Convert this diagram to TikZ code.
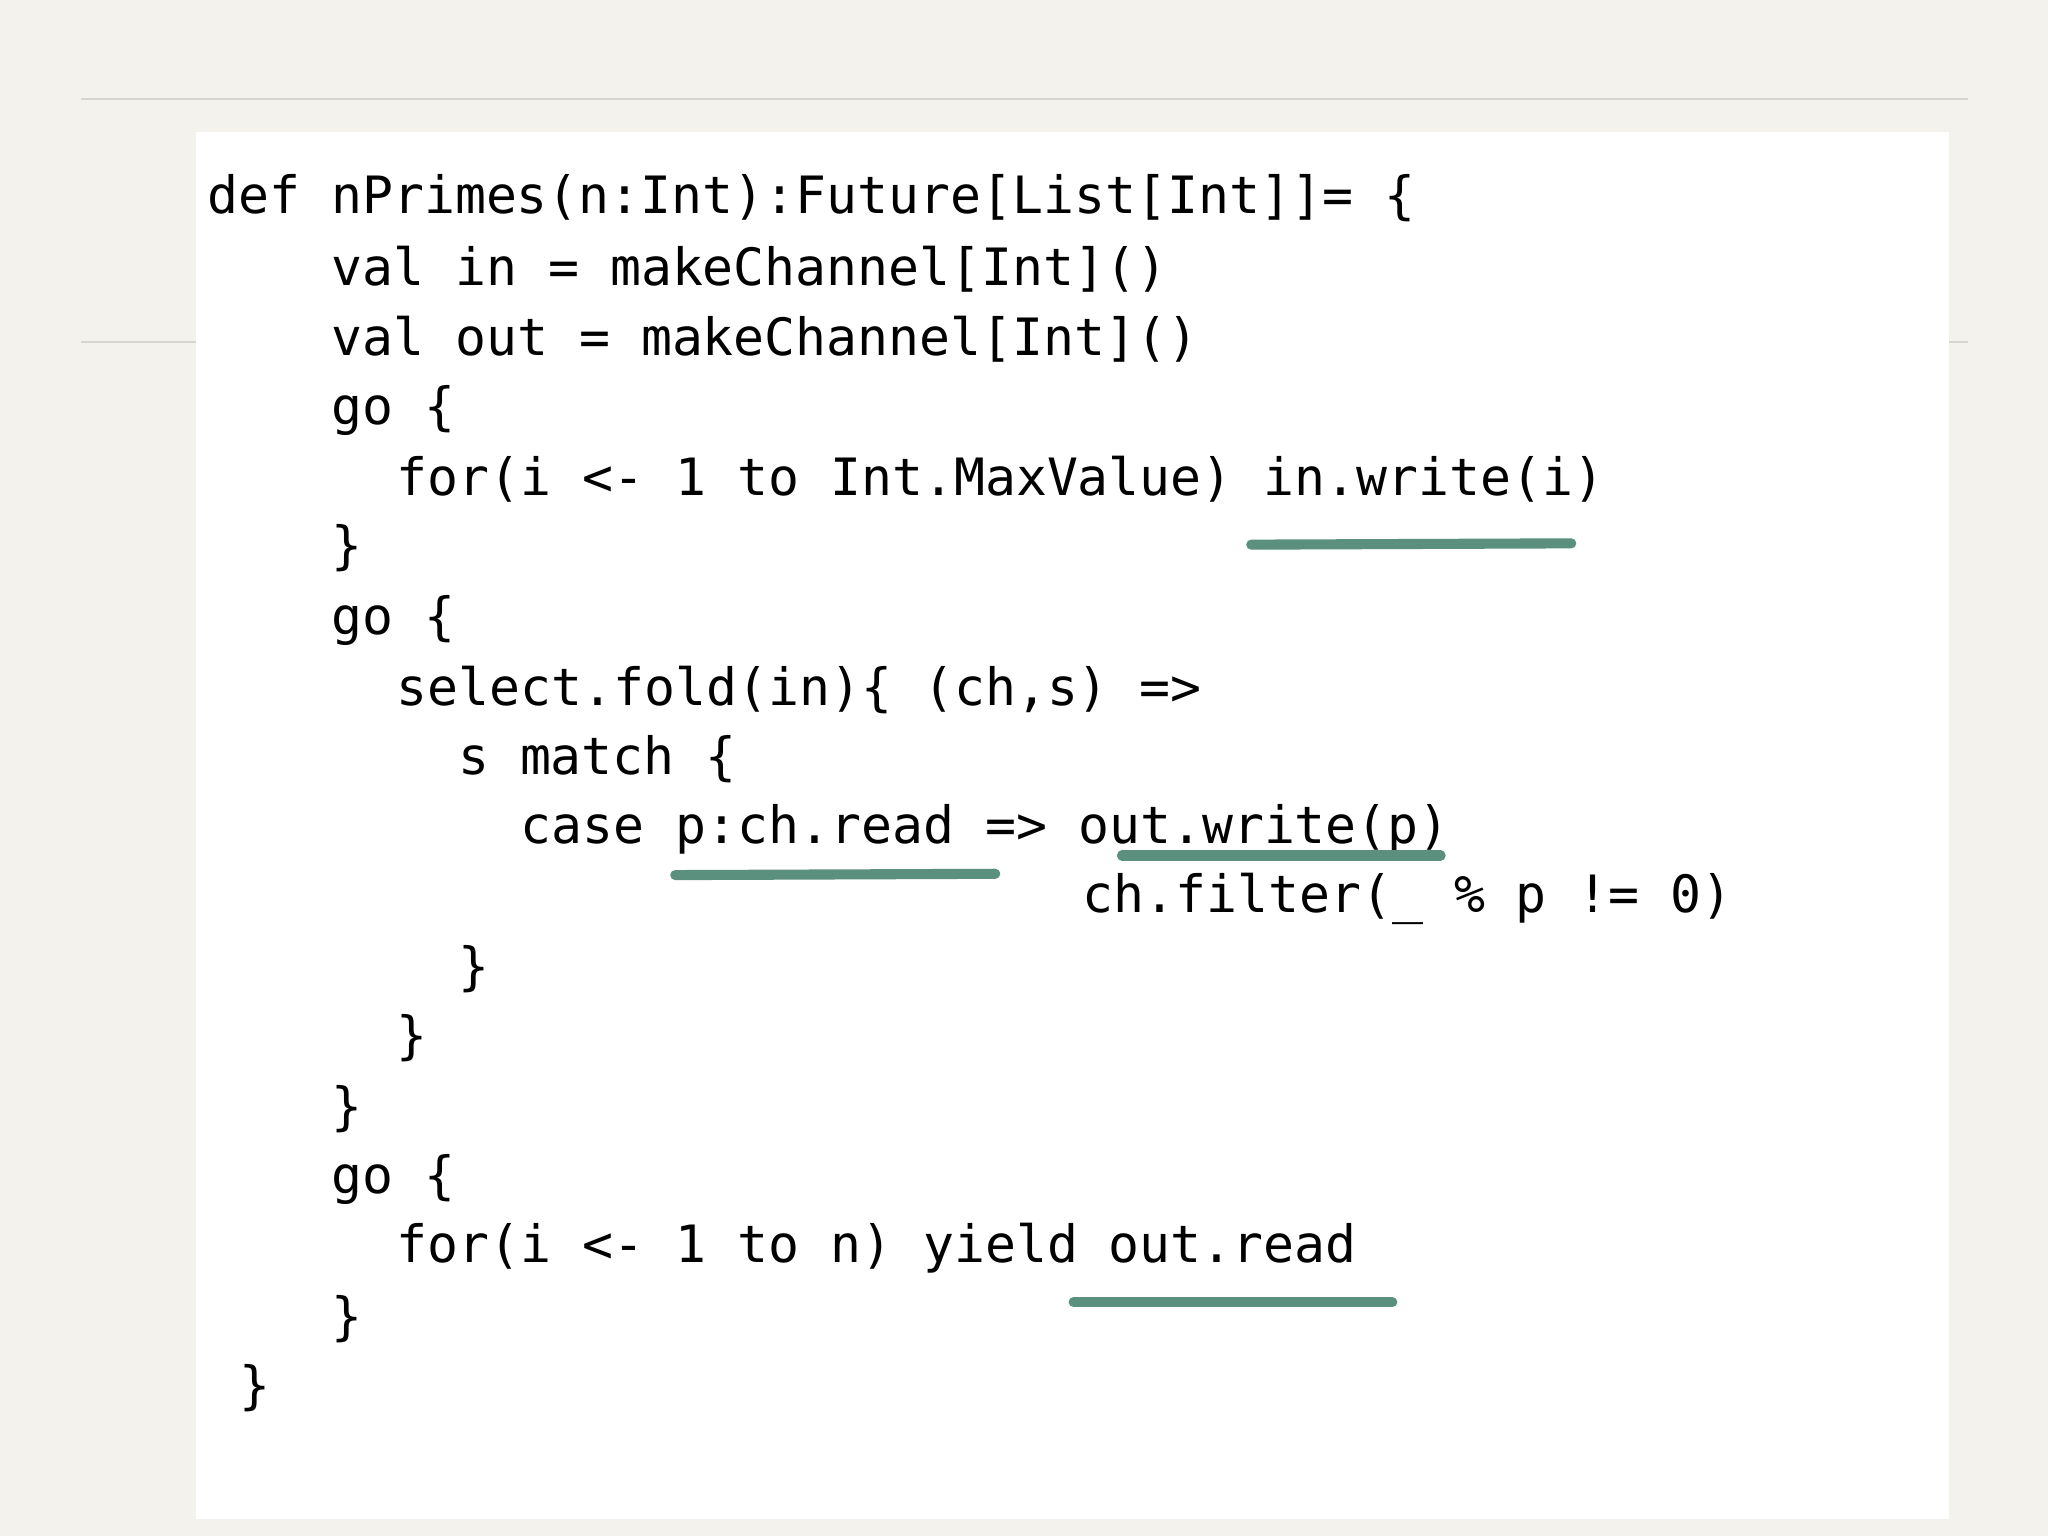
\documentclass[tikz,border=0pt]{standalone}
\usepackage{fontspec}
\setmonofont{DejaVu Sans Mono}
\usepackage{tikz}
\definecolor{paper}{HTML}{F3F2EC}
\definecolor{rule}{HTML}{D6D5CF}
\definecolor{marker}{HTML}{5B8F7E}
\tikzset{code/.style={anchor=west,inner sep=0pt,font=\ttfamily\fontsize{11.2pt}{13pt}\selectfont},
  hl/.style={draw=marker,line width=2.2pt,line cap=round}}
\begin{document}
\begin{tikzpicture}[x=0.01cm,y=-0.01cm]

\fill[paper] (0,0) rectangle (1568,1176);
\draw[rule] (62,76)--(1507,76);
\draw[rule] (62,262)--(1507,262);
\fill[white] (150,101) rectangle (1492,1163);

\node[code] (l1) at (158,152) {def nPrimes(n:Int):Future[List[Int]]= \{};
\node[code] (l2) at (253,206) {val in = makeChannel[Int]()};
\node[code] (l3) at (253,260) {val out = makeChannel[Int]()};
\node[code] (l4) at (253,314) {go \{};
\node[code] (l5) at (303,367) {for(i <- 1 to Int.MaxValue) in.write(i)};
\node[code] (l6) at (253,420) {\}};
\node[code] (l7) at (253,475) {go \{};
\node[code] (l8) at (303,528) {select.fold(in)\{ (ch,s) =>};
\node[code] (l9) at (350,581) {s match \{};
\node[code] (l10) at (398,635) {case p:ch.read => out.write(p)};
\node[code] (l11) at (828,688) {ch.filter(\_ \% p != 0)};
\node[code] (l12) at (350,742) {\}};
\node[code] (l13) at (303,795) {\}};
\node[code] (l14) at (253,849) {\}};
\node[code] (l15) at (253,903) {go \{};
\node[code] (l16) at (303,956) {for(i <- 1 to n) yield out.read};
\node[code] (l17) at (253,1010) {\}};
\node[code] (l18) at (183,1063) {\}};

% marker strokes
\draw[hl] (958,417)--(1203,416);
\draw[hl] (517,670)--(762,669);
\draw[hl] (859,655)--(1103,655);
\draw[hl] (822,997)--(1066,997);

\end{tikzpicture}
\end{document}
